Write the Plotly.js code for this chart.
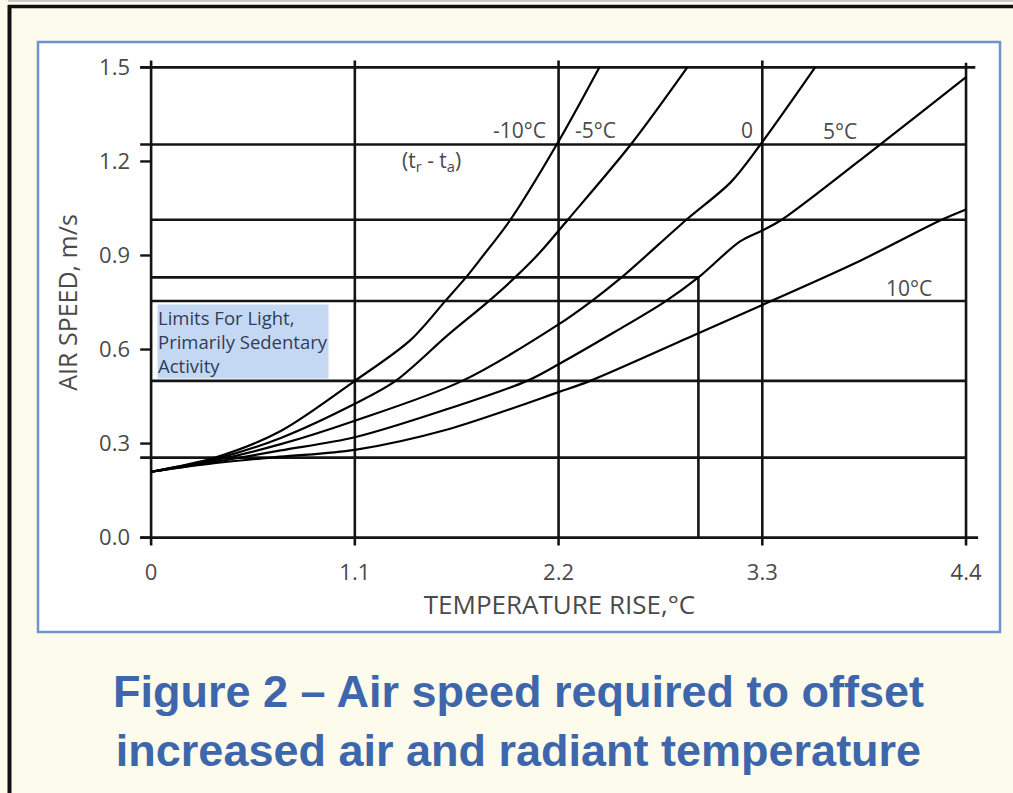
<!DOCTYPE html>
<html>
<head>
<meta charset="utf-8">
<script src="https://cdn.plot.ly/plotly-3.0.1.min.js"></script>
<style>
  html, body { margin: 0; padding: 0; background: #fcfbec; }
  #chart { width: 1013px; height: 793px; }
</style>
</head>
<body>
<div id="chart"></div>
<script>
// ---------------- DATA ----------------
var curveLabels = ['-10°C', '-5°C', '0', '5°C', '10°C'];

var xM10 = [0, 0.35, 0.7, 1.1, 1.4, 1.59, 1.70, 1.78, 1.94, 2.19, 2.42];
var yM10 = [0.21, 0.256, 0.34, 0.50, 0.63, 0.756, 0.83, 0.89, 1.014, 1.254, 1.5];

var xM5 = [0, 0.35, 0.7, 1.1, 1.32, 1.6, 1.82, 1.965, 2.1, 2.25, 2.59, 2.895];
var yM5 = [0.21, 0.251, 0.318, 0.427, 0.50, 0.645, 0.753, 0.83, 0.91, 1.014, 1.254, 1.5];

var x0 = [0, 0.35, 0.7, 1.1, 1.68, 2.2, 2.375, 2.54, 2.89, 3.13, 3.29, 3.585];
var y0 = [0.21, 0.247, 0.298, 0.373, 0.50, 0.68, 0.753, 0.83, 1.014, 1.134, 1.254, 1.5];

var xP5 = [0, 0.35, 0.7, 1.1, 1.6, 2.03, 2.2, 2.5, 2.775, 2.955, 3.18, 3.3, 3.405, 3.936, 4.4];
var yP5 = [0.21, 0.242, 0.278, 0.32, 0.41, 0.50, 0.553, 0.655, 0.753, 0.83, 0.945, 0.98, 1.014, 1.254, 1.469];

var xP10 = [0, 0.35, 0.7, 1.1, 1.6, 2.2, 2.37, 2.955, 3.3, 3.8, 4.268, 4.4];
var yP10 = [0.21, 0.238, 0.258, 0.28, 0.345, 0.464, 0.50, 0.652, 0.742, 0.875, 1.014, 1.047];

// reference grid lines of the chart (air speed levels and temperature rises)
var hLineY  = [1.5, 1.254, 1.014, 0.83, 0.755, 0.50, 0.255, 0.0];
var hLineX0 = [-0.059, -0.059, 0, 0, 0, 0, -0.059, -0.059];
var hLineX1 = [4.45, 4.4, 4.4, 2.955, 4.4, 4.4, 4.4, 4.465];

var vLineX  = [0, 1.1, 2.2, 2.955, 3.3, 4.4];
var vLineY0 = [-0.0255, -0.0255, -0.0255, 0, -0.0255, -0.0255];
var vLineY1 = [1.522, 1.522, 1.522, 0.83, 1.522, 1.515];

var xTickVals = [0, 1.1, 2.2, 3.3, 4.4];
var xTickText = ['0', '1.1', '2.2', '3.3', '4.4'];
var yTickVals = [0, 0.3, 0.6, 0.9, 1.2, 1.5];
var yTickText = ['0.0', '0.3', '0.6', '0.9', '1.2', '1.5'];

var noteLines = ['Limits For Light,', 'Primarily Sedentary', 'Activity'];

// ---------------- LAYOUT GEOMETRY ----------------
var W = 1013, H = 793;
var M = { l: 140, r: 34, t: 58, b: 246 };
var PW = W - M.l - M.r, PH = H - M.t - M.b;
function px2paperX(px) { return (px - M.l) / PW; }
function px2paperY(py) { return (H - M.b - py) / PH; }

var GRID = '#141414';
var TXT = '#4a4a4a';
var FONT = 'Open Sans, Noto Sans, sans-serif';

// ---------------- TRACES ----------------
var xs = [xM10, xM5, x0, xP5, xP10];
var ys = [yM10, yM5, y0, yP5, yP10];
var traces = xs.map(function (xv, i) {
  return {
    type: 'scatter', mode: 'lines', name: curveLabels[i],
    x: xv, y: ys[i],
    line: { color: '#000', width: 2.2, shape: 'spline', smoothing: 0.9 },
    hoverinfo: 'x+y+name'
  };
});

// ---------------- SHAPES ----------------
var shapes = [];
// white panel with blue frame
shapes.push({ type: 'rect', xref: 'paper', yref: 'paper', layer: 'below',
  x0: px2paperX(38), x1: px2paperX(1000), y0: px2paperY(632), y1: px2paperY(42),
  fillcolor: '#ffffff', line: { color: '#6f93cf', width: 2.5 } });
// outer black frame (left & top) and light top rule
shapes.push({ type: 'line', xref: 'paper', yref: 'paper', layer: 'below',
  x0: px2paperX(8), x1: px2paperX(1020), y0: px2paperY(1), y1: px2paperY(1),
  line: { color: '#c9c9c9', width: 2 } });
shapes.push({ type: 'line', xref: 'paper', yref: 'paper', layer: 'below',
  x0: px2paperX(9.5), x1: px2paperX(9.5), y0: px2paperY(5), y1: px2paperY(800),
  line: { color: '#111', width: 4 } });
shapes.push({ type: 'line', xref: 'paper', yref: 'paper', layer: 'below',
  x0: px2paperX(8), x1: px2paperX(1020), y0: px2paperY(6.5), y1: px2paperY(6.5),
  line: { color: '#111', width: 3.5 } });

hLineY.forEach(function (y, i) {
  shapes.push({ type: 'line', xref: 'x', yref: 'y', layer: 'below',
    x0: hLineX0[i], x1: hLineX1[i], y0: y, y1: y,
    line: { color: GRID, width: 2.6 } });
});
vLineX.forEach(function (x, i) {
  shapes.push({ type: 'line', xref: 'x', yref: 'y', layer: 'below',
    x0: x, x1: x, y0: vLineY0[i], y1: vLineY1[i],
    line: { color: GRID, width: 2.6 } });
});
// tick dashes on the air-speed axis
yTickVals.forEach(function (y) {
  shapes.push({ type: 'line', xref: 'x', yref: 'y', layer: 'below',
    x0: -0.059, x1: 0, y0: y, y1: y, line: { color: GRID, width: 2.4 } });
});

// ---------------- ANNOTATIONS ----------------
var labelFont = { family: FONT, size: 21, color: TXT };
var annotations = [
  { x: 2.143, y: 1.299, text: curveLabels[0], xanchor: 'right', yanchor: 'middle' },
  { x: 2.278, y: 1.299, text: curveLabels[1], xanchor: 'left', yanchor: 'middle' },
  { x: 3.218, y: 1.299, text: curveLabels[2], xanchor: 'center', yanchor: 'middle' },
  { x: 3.72,  y: 1.296, text: curveLabels[3], xanchor: 'center', yanchor: 'middle' },
  { x: 4.092, y: 0.795, text: curveLabels[4], xanchor: 'center', yanchor: 'middle' },
  { x: 1.512, y: 1.20, text: '(t<sub>r</sub> - t<sub>a</sub>)', xanchor: 'center', yanchor: 'middle' }
].map(function (a) {
  a.xref = 'x'; a.yref = 'y'; a.showarrow = false; a.font = labelFont; return a;
});
// highlighted note (one text block, three lines)
annotations.push({ xref: 'x', yref: 'y', x: 0.03, y: 0.627, text: noteLines.join('<br>'),
  xanchor: 'left', yanchor: 'middle', align: 'left', showarrow: false,
  bgcolor: '#c5d8f3', borderpad: 0,
  font: { family: FONT, size: 18.5, color: '#2f3d5a' } });

var layout = {
  width: W, height: H,
  margin: { l: M.l, r: M.r, t: M.t, b: M.b, pad: 0 },
  paper_bgcolor: '#fcfbec',
  plot_bgcolor: 'rgba(0,0,0,0)',
  showlegend: false,
  font: { family: FONT, color: TXT },
  title: {
    text: 'Figure 2 – Air speed required to offset<br>increased air and radiant temperature',
    font: { family: 'Liberation Sans, Arial, sans-serif', size: 45, color: '#3d66ab', weight: 700 },
    x: 518.5 / W, xref: 'container', xanchor: 'center',
    y: 1 - 707 / H, yref: 'container', yanchor: 'middle'
  },
  xaxis: {
    range: [-0.06, 4.47], showgrid: false, zeroline: false, showline: false,
    tickmode: 'array', tickvals: xTickVals, ticktext: xTickText,
    ticks: '', ticklabelstandoff: 10,
    tickfont: { family: FONT, size: 22, color: TXT },
    title: { text: 'TEMPERATURE RISE,°C', font: { family: FONT, size: 26, color: TXT }, standoff: 8 },
    fixedrange: true
  },
  yaxis: {
    range: [-0.03, 1.53], showgrid: false, zeroline: false, showline: false,
    tickmode: 'array', tickvals: yTickVals, ticktext: yTickText,
    ticks: '', ticklabelstandoff: 9,
    tickfont: { family: FONT, size: 22, color: TXT },
    title: { text: 'AIR SPEED, m/s', font: { family: FONT, size: 25, color: TXT }, standoff: 14 },
    fixedrange: true
  },
  shapes: shapes,
  annotations: annotations
};

Plotly.newPlot('chart', traces, layout, { displayModeBar: false, responsive: false });
</script>
</body>
</html>
